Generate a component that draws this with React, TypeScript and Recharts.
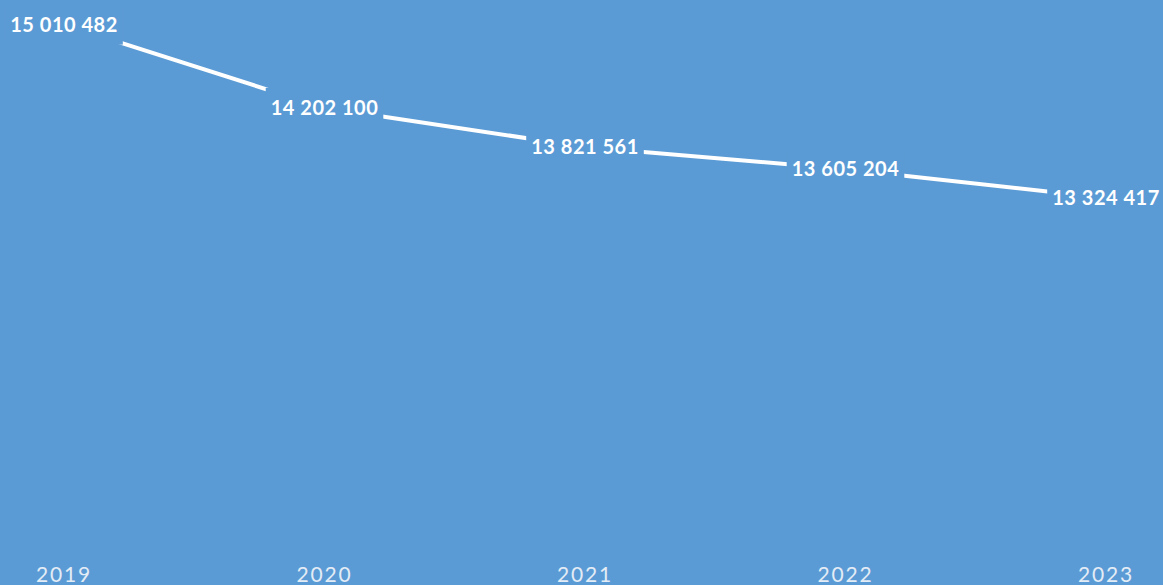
import React from "react";
import { LineChart, Line, XAxis, YAxis } from "recharts";

const years = ["2019", "2020", "2021", "2022", "2023"];
const totals = [15010482, 14202100, 13821561, 13605204, 13324417];

const data = years.map((year, i) => ({ year, total: totals[i] }));

const BG = "#5B9BD5";
const FONT = "Lato, 'Open Sans', sans-serif";

const fmt = (v: number) => String(v).replace(/\B(?=(\d{3})+(?!\d))/g, " ");

function ValueLabel(props: any) {
  const { x, y, value } = props;
  const text = fmt(Number(value));
  const digits = text.replace(/\s/g, "").length;
  const spaces = text.length - digits;
  const w = digits * 12.1 + spaces * 4.4 + 12;
  const h = 40;
  return (
    <g>
      <rect x={x - w / 2} y={y - h / 2} width={w} height={h} fill={BG} />
      <text
        x={x}
        y={y}
        dy={7}
        textAnchor="middle"
        fill="#FFFFFF"
        fontFamily={FONT}
        fontWeight={700}
        fontSize={20}
        letterSpacing={0.5}
      >
        {text}
      </text>
    </g>
  );
}

function YearTick(props: any) {
  const { x, y, payload } = props;
  return (
    <text
      x={x}
      y={y}
      dy={34}
      textAnchor="middle"
      fill="#E4ECF5"
      fontFamily={FONT}
      fontSize={21}
      letterSpacing={1.8}
    >
      {payload.value}
    </text>
  );
}

export default function App() {
  return (
    <div style={{ width: 1163, height: 585, background: BG, overflow: "hidden" }}>
      <style>{`body{margin:0}`}</style>
      <LineChart
        width={1163}
        height={585}
        data={data}
        margin={{ top: 0, right: 57, bottom: 0, left: 64 }}
      >
        <XAxis
          dataKey="year"
          axisLine={false}
          tickLine={false}
          height={45}
          interval={0}
          tick={<YearTick />}
        />
        <YAxis hide domain={[10000000, 15250000]} />
        <Line
          dataKey="total"
          stroke="#FFFFFF"
          strokeWidth={4}
          dot={false}
          isAnimationActive={false}
          label={<ValueLabel />}
        />
      </LineChart>
    </div>
  );
}
